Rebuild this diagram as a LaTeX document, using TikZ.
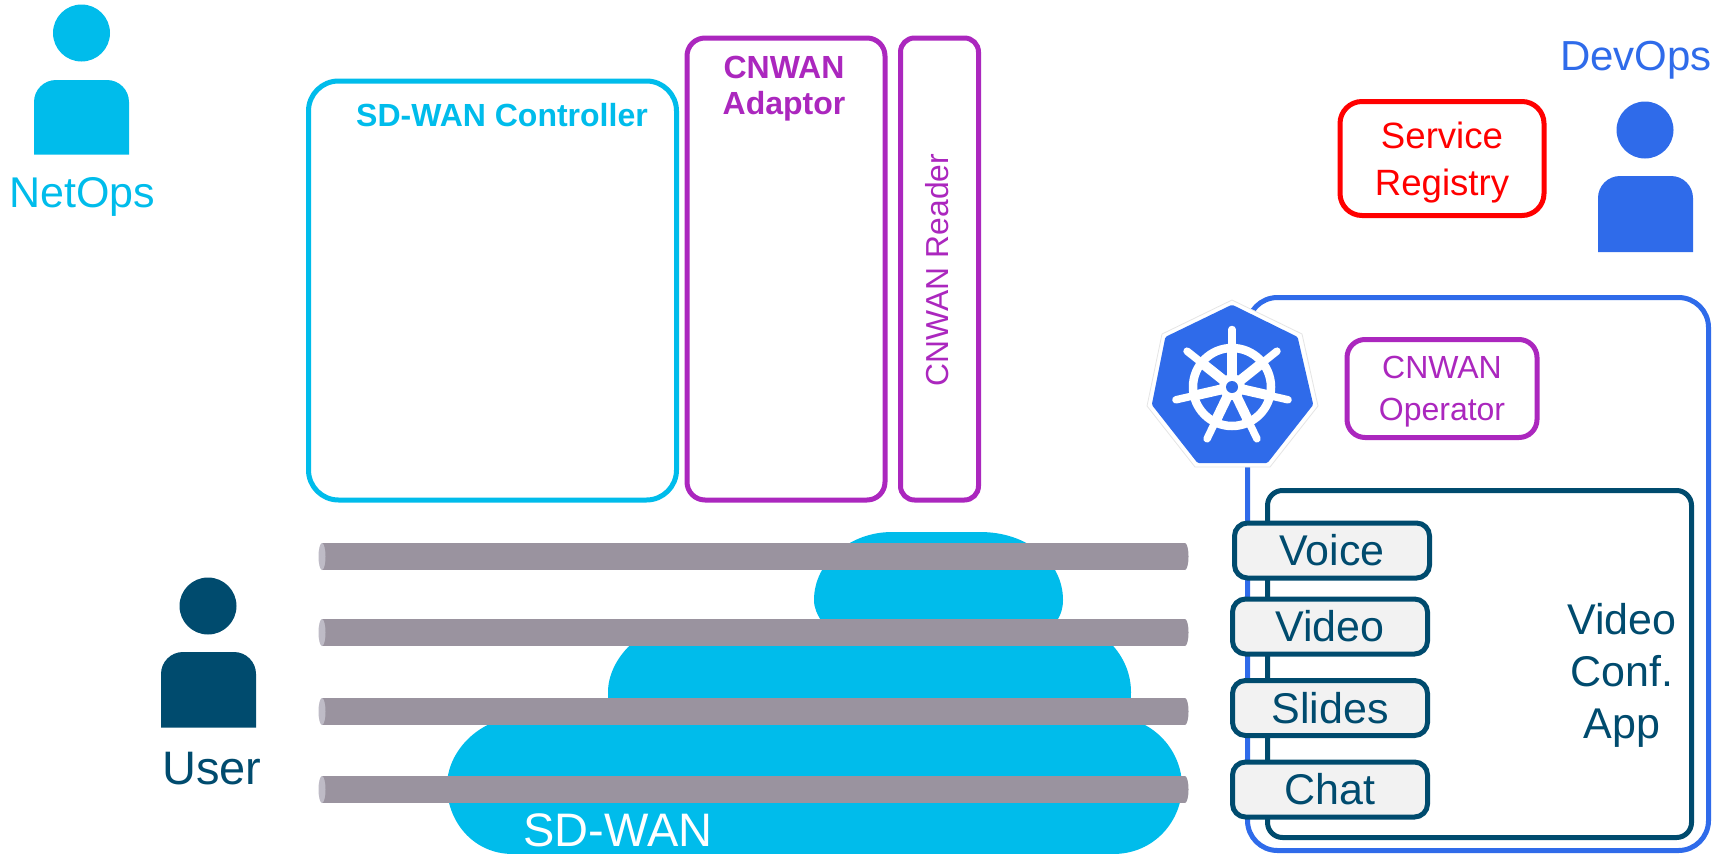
\documentclass[tikz,border=0pt]{standalone}
\usepackage{fontspec}
\setmainfont{Liberation Sans}
\definecolor{cyanc}{HTML}{00BCEB}
\definecolor{purp}{HTML}{AB27BE}
\definecolor{kblue}{HTML}{2F6BEA}
\definecolor{darkb}{HTML}{004B6E}
\definecolor{pipeg}{HTML}{9A939F}
\definecolor{capg}{HTML}{BEBBC6}
\definecolor{svcg}{HTML}{F2F2F2}
\newcommand\sz[2]{\fontsize{#1pt}{#2pt}\selectfont}
\tikzset{
  x=1pt,y=-1pt,
  box/.style={draw,rounded corners=#1,line width=5pt,fill=white,inner sep=0pt,align=center},
  box/.default=18pt,
  txt/.style={inner sep=0pt,align=center},
  svc/.style={box=13pt,draw=darkb,fill=svcg,text=darkb,minimum width=195pt,minimum height=55pt,font=\sz{43}{48}},
  pipebody/.style={fill=pipeg},
  pipecap/.style={fill=capg},
  head/.style={circle,inner sep=0pt,minimum size=57pt}
}
\begin{document}
\begin{tikzpicture}
\useasboundingbox (0,0) rectangle (1727,854);
% cloud
\fill[cyanc] (513,854) .. controls (472,854) and (447,820) .. (447,786)
  .. controls (447,752) and (478,718) .. (522,716) -- (610,716)
  .. controls (608,708) and (608,700) .. (608,692)
  .. controls (608,660) and (640,622) .. (690,622) -- (822,622)
  .. controls (817,614) and (814,608) .. (814,600)
  .. controls (814,562) and (850,532) .. (892,532) -- (980,532)
  .. controls (1028,532) and (1063,562) .. (1063,600)
  .. controls (1063,608) and (1061,615) .. (1056,622) -- (1060,622)
  .. controls (1100,622) and (1131,655) .. (1131,692)
  .. controls (1131,700) and (1130,708) .. (1128,716) -- (1112,716)
  .. controls (1155,718) and (1182,752) .. (1182,786)
  .. controls (1182,820) and (1155,854) .. (1113,854) -- cycle;
\node[txt,text=white,font=\sz{47}{50}] (sdwan) at (618,830) {SD-WAN};
% pipes
\foreach \t in {543,619,698,776}{
  \pgfmathsetmacro\b{\t+27}\pgfmathsetmacro\m{\t+13.5}
  \fill[pipebody] (322,\t) rectangle (1185,\b);
  \fill[pipebody] (1185,\m) ellipse [x radius=3.5,y radius=13.5];
  \fill[pipecap] (322,\m) ellipse [x radius=3.5,y radius=13.5];
}
% control boxes
\node[box=30pt,draw=cyanc,minimum width=368pt,minimum height=419pt] (ctrl) at (492.5,290.5) {};
\node[txt,text=cyanc,font=\sz{32}{36}\bfseries] (ctrll) at (502,115) {SD-WAN Controller};
\node[box=18pt,draw=purp,minimum width=198pt,minimum height=462pt] (adaptor) at (786,269) {};
\node[txt,text=purp,font=\sz{32}{36}\bfseries] (adaptorl) at (784,88.5) {CNWAN\\Adaptor};
\node[box=14pt,draw=purp,minimum width=78pt,minimum height=462pt] (reader) at (939.5,269) {};
\node[txt,text=purp,font=\sz{31.8}{36},rotate=90] (readerl) at (937,270) {CNWAN Reader};
\node[box=22pt,draw=red,minimum width=204pt,minimum height=114pt] (registry) at (1442,158.5) {};
\node[txt,text=red,font=\sz{36.6}{47}] (registryl) at (1442,162.5) {Service\\Registry};
% people
\fill[cyanc] (34,154.5) -- (34,102) arc[start angle=180,end angle=270,radius=22] -- (107,80) arc[start angle=270,end angle=360,radius=22] -- (129,154.5) -- cycle;
\node[head,fill=cyanc] (neth) at (81.5,33) {};
\node[txt,text=cyanc,font=\sz{43}{46}] (netl) at (82.5,197) {NetOps};
\fill[kblue] (1598,252) -- (1598,198) arc[start angle=180,end angle=270,radius=22] -- (1671,176) arc[start angle=270,end angle=360,radius=22] -- (1693,252) -- cycle;
\node[head,fill=kblue] (devh) at (1645,130) {};
\node[txt,text=kblue,font=\sz{42}{46}] (devl) at (1636,60) {DevOps};
\fill[darkb] (161,727.5) -- (161,674) arc[start angle=180,end angle=270,radius=22] -- (234,652) arc[start angle=270,end angle=360,radius=22] -- (256,727.5) -- cycle;
\node[head,fill=darkb] (userh) at (208,606) {};
\node[txt,text=darkb,font=\sz{47}{50}] (userl) at (212,769) {User};
% cluster
\node[box=30pt,draw=kblue,minimum width=461pt,minimum height=553pt] (cluster) at (1478,574) {};
\node[box=18pt,draw=purp,minimum width=190pt,minimum height=98pt] (operator) at (1442,388.5) {};
\node[txt,text=purp,font=\sz{32}{42}] (operatorl) at (1442,391.5) {CNWAN\\Operator};
% kubernetes logo
\fill[white,draw=black!10,line width=0.8pt,line join=round] (1232,300) -- (1302,334) -- (1318,406) -- (1270,467) -- (1195,467) -- (1147,406) -- (1162,334) -- cycle;
\fill[kblue,draw=kblue,line width=6pt,line join=round] (1232,308) -- (1295,339) -- (1310,404) -- (1266,460) -- (1199,460) -- (1155,404) -- (1168,339) -- cycle;
\begin{scope}[shift={(1232,387)}]
  \draw[white,line width=8.5pt] (0,0) circle[radius=39];
  \fill[white] (0,0) circle[radius=13];
  \foreach \a in {0,1,...,6}{
    \pgfmathsetmacro\ang{90+\a*360/7}
    \draw[white,line width=10pt] (0,0) -- ({37*cos(\ang)},{-37*sin(\ang)});
    \draw[white,line width=7.5pt,line cap=round] ({37*cos(\ang)},{-37*sin(\ang)}) -- ({57.5*cos(\ang)},{-57.5*sin(\ang)});
  }
  \fill[kblue] (0,0) circle[radius=6];
\end{scope}
% app
\node[box=15pt,draw=darkb,minimum width=424pt,minimum height=347pt] (app) at (1479.5,664) {};
\node[txt,text=darkb,font=\sz{43}{52}] (appl) at (1622,675) {Video\\Conf.\\App};
\node[svc] (voice) at (1332,550.5) {Voice};
\node[svc] (video) at (1330,626.5) {Video};
\node[svc] (slides) at (1330,708) {Slides};
\node[svc] (chat) at (1330,789.5) {Chat};
\end{tikzpicture}
\end{document}
